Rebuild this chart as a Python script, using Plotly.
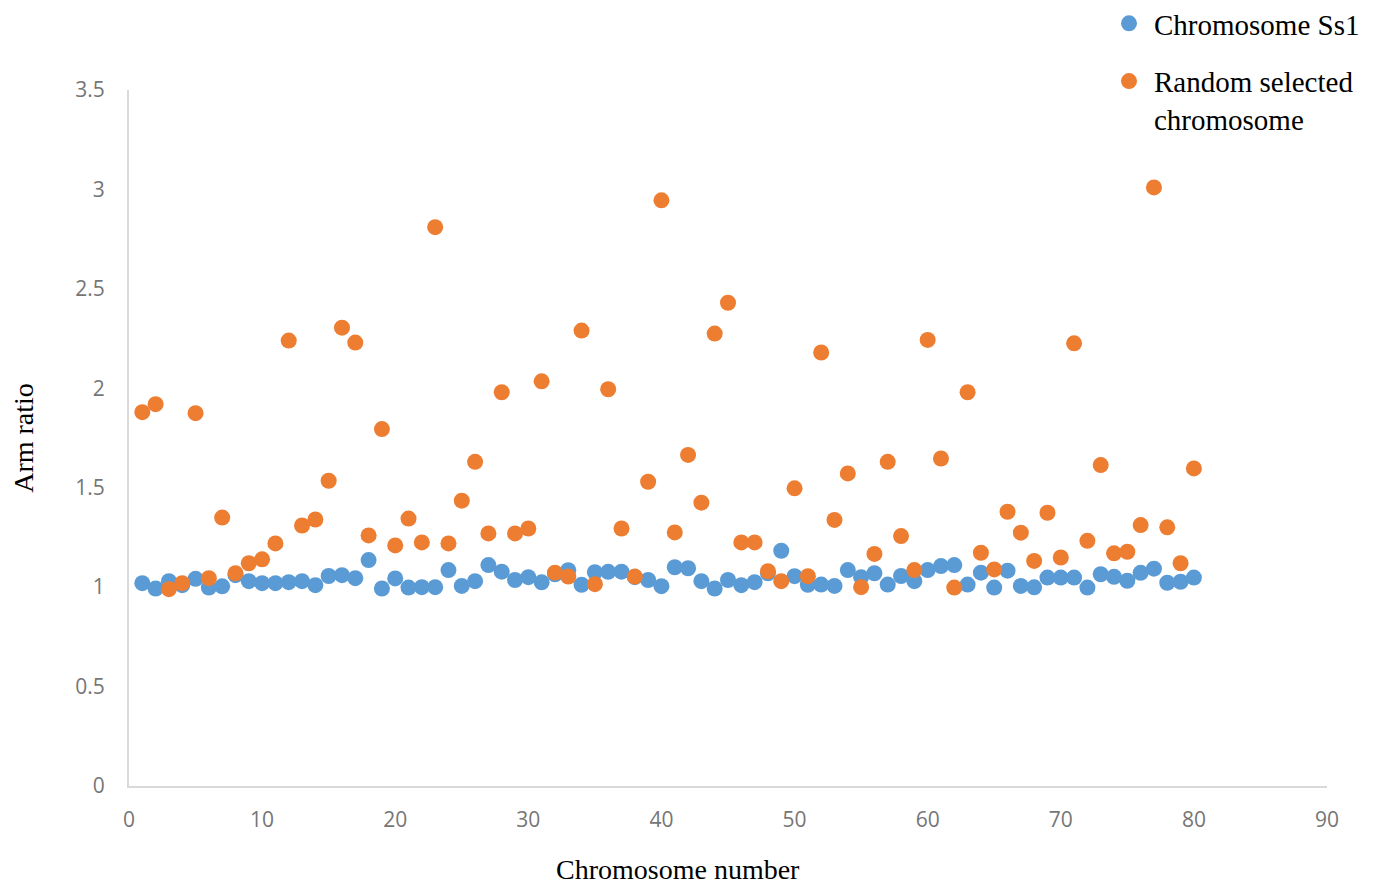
import plotly.graph_objects as go

chromosome_number = list(range(1, 81))

ss1_arm_ratio = [
    1.02, 0.993, 1.03, 1.01, 1.042, 0.998, 1.004, 1.06, 1.03, 1.02,
    1.02, 1.025, 1.03, 1.01, 1.056, 1.06, 1.045, 1.136, 0.993, 1.044,
    0.998, 1.0, 1.0, 1.086, 1.006, 1.03, 1.111, 1.078, 1.036, 1.05,
    1.024, 1.065, 1.085, 1.012, 1.075, 1.077, 1.078, 1.05, 1.036, 1.005,
    1.1, 1.095, 1.03, 0.993, 1.036, 1.01, 1.025, 1.07, 1.183, 1.055,
    1.012, 1.013, 1.006, 1.086, 1.05, 1.07, 1.013, 1.056, 1.03, 1.086,
    1.106, 1.111, 1.013, 1.073, 0.998, 1.083, 1.006, 0.999, 1.048, 1.048,
    1.048, 0.998, 1.065, 1.052, 1.032, 1.072, 1.093, 1.022, 1.027, 1.048,
]

random_arm_ratio = [
    1.88, 1.92, 0.99, 1.02, 1.875, 1.045, 1.35, 1.07, 1.12, 1.14,
    1.22, 2.24, 1.31, 1.34, 1.535, 2.305, 2.23, 1.26, 1.795, 1.21,
    1.345, 1.225, 2.81, 1.22, 1.435, 1.63, 1.27, 1.98, 1.27, 1.295,
    2.035, 1.073, 1.053, 2.29, 1.015, 1.995, 1.295, 1.053, 1.53, 2.945,
    1.275, 1.665, 1.425, 2.275, 2.43, 1.225, 1.225, 1.08, 1.03, 1.497,
    1.055, 2.18, 1.338, 1.572, 1.0, 1.167, 1.63, 1.257, 1.086, 2.243,
    1.647, 0.998, 1.98, 1.173, 1.089, 1.379, 1.274, 1.132, 1.374, 1.149,
    2.226, 1.233, 1.614, 1.17, 1.178, 1.312, 3.01, 1.301, 1.12, 1.597,
]

x_ticks = [0, 10, 20, 30, 40, 50, 60, 70, 80, 90]
y_ticks = [0, 0.5, 1, 1.5, 2, 2.5, 3, 3.5]
y_tick_text = ["0", "0.5", "1", "1.5", "2", "2.5", "3", "3.5"]

BLUE = "#5B9BD5"
ORANGE = "#ED7D31"
SERIF = "Liberation Serif"
TICKFONT = dict(family="Open Sans", size=21, color="#767676")

W, H = 1369, 876
L, T, R, B = 121, 82, 50, 98
plot_h = H - T - B
plot_w = W - L - R

fig = go.Figure()
fig.add_trace(go.Scatter(
    x=chromosome_number, y=ss1_arm_ratio, mode="markers",
    name="Chromosome Ss1",
    marker=dict(color=BLUE, size=16),
    legendgroup="a",
))
fig.add_trace(go.Scatter(
    x=chromosome_number, y=random_arm_ratio, mode="markers",
    name="Random selected<br>chromosome",
    marker=dict(color=ORANGE, size=16),
    legendgroup="b",
))

fig.update_layout(
    width=W, height=H,
    margin=dict(l=L, r=R, t=T, b=B, autoexpand=False),
    paper_bgcolor="white", plot_bgcolor="white",
    showlegend=True,
    legend=dict(
        xref="paper", yref="paper",
        x=(1096 - L) / plot_w, xanchor="left",
        y=1 + (T + 10) / plot_h, yanchor="top",
        font=dict(family=SERIF, size=29, color="black"),
        valign="top", tracegroupgap=17, traceorder="grouped",
        itemwidth=40,
        bgcolor="rgba(0,0,0,0)",
    ),
    xaxis=dict(
        range=[0, 90], tickmode="array", tickvals=x_ticks,
        showgrid=False, zeroline=False,
        showline=True, linecolor="#D9D9D9", linewidth=2,
        ticks="", tickfont=TICKFONT, ticklabelstandoff=14,
    ),
    yaxis=dict(
        range=[0, 3.5], tickmode="array", tickvals=y_ticks, ticktext=y_tick_text,
        showgrid=False, zeroline=False,
        showline=True, linecolor="#D9D9D9", linewidth=2,
        ticks="", tickfont=TICKFONT, ticklabelstandoff=18,
        title=dict(text="Arm ratio", font=dict(family=SERIF, size=28, color="black"), standoff=37),
    ),
    annotations=[
        dict(text="Chromosome number", xref="paper", yref="paper",
             x=(670 - L) / plot_w, y=-(862 - (H - B)) / plot_h,
             xanchor="center", yanchor="middle", showarrow=False,
             font=dict(family=SERIF, size=28, color="black")),
    ],
)

fig.write_html("out.html")
